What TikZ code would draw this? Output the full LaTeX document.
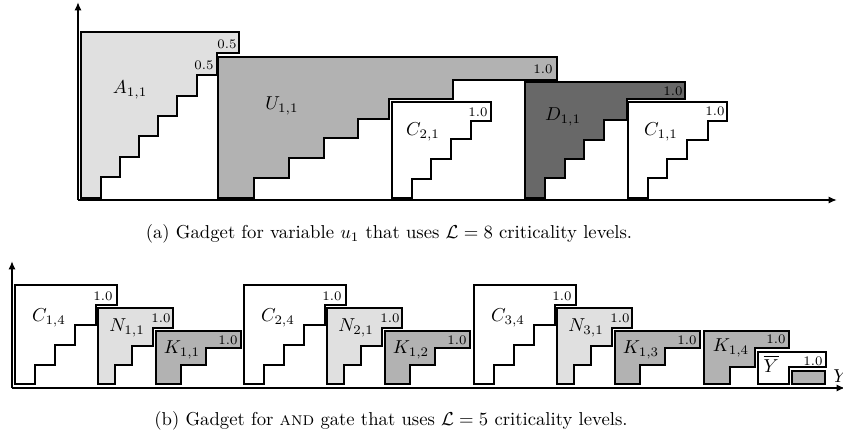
\documentclass[tikz,border=0pt]{standalone}
\usetikzlibrary{arrows.meta}
\definecolor{lightfill}{RGB}{224,224,224}
\definecolor{midfill}{RGB}{178,178,178}
\definecolor{darkfill}{RGB}{104,104,104}
\begin{document}
\begin{tikzpicture}[x=0.535pt,y=-0.535pt,
  blk/.style={draw=black,line width=1pt,line join=miter},
  axis/.style={line width=0.9pt,-{Latex[length=4.5pt,width=3.8pt]}},
  lbl/.style={inner sep=0pt},
  val/.style={inner sep=0pt,font=\scriptsize}]
\useasboundingbox (0,0) rectangle (843,447);

% ---------- panel (a) ----------
\coordinate (oa) at (78,200);
\coordinate (ya) at (78,2);
\coordinate (xa) at (837,200);
\draw[axis] (oa) -- (ya);
\draw[axis] (oa) -- (xa);

\draw[blk,fill=lightfill] (81,32)--(239,32)--(239,53)--(217,53)--(217,75)--(197,75)--(197,96)--(177,96)--(177,116)--(158,116)--(158,136)--(139,136)--(139,157)--(120,157)--(120,177)--(101,177)--(101,198)--(81,198)--cycle;
\draw[blk,fill=midfill] (218,57)--(557,57)--(557,80)--(453,80)--(453,99)--(389,99)--(389,119)--(358,119)--(358,138)--(324,138)--(324,158)--(289,158)--(289,178)--(254,178)--(254,198)--(218,198)--cycle;
\draw[blk,fill=white] (392,102)--(491,102)--(491,121)--(471,121)--(471,139)--(451,139)--(451,159)--(431,159)--(431,179)--(412,179)--(412,198)--(392,198)--cycle;
\draw[blk,fill=darkfill] (525,82)--(685,82)--(685,99)--(627,99)--(627,120)--(604,120)--(604,140)--(584,140)--(584,159)--(565,159)--(565,178)--(545,178)--(545,198)--(525,198)--cycle;
\draw[blk,fill=white] (628,102)--(727,102)--(727,121)--(708,121)--(708,140)--(687,140)--(687,159)--(667,159)--(667,178)--(648,178)--(648,198)--(628,198)--cycle;

\node[lbl] (lA) at (130,90) {$A_{1,1}$};
\node[val] (vA1) at (227,44) {0.5};
\node[val] (vA2) at (204,65) {0.5};
\node[lbl] (lU) at (282,106) {$U_{1,1}$};
\node[val] (vU) at (543,69) {1.0};
\node[lbl] (lC21) at (423,132) {$C_{2,1}$};
\node[val] (vC21) at (478,112) {1.0};
\node[lbl] (lD) at (563,117) {$D_{1,1}$};
\node[val] (vD) at (673,91) {1.0};
\node[lbl] (lC11) at (661,132) {$C_{1,1}$};
\node[val] (vC11) at (715,111) {1.0};

\node (capa) at (389,234) {(a) Gadget for variable $u_1$ that uses $\mathcal{L}=8$ criticality levels.};

% ---------- panel (b) ----------
\coordinate (ob) at (12,388);
\coordinate (yb) at (12,261);
\coordinate (xb) at (845,388);
\draw[axis] (ob) -- (yb);
\draw[axis] (ob) -- (xb);

\foreach \i/\dx in {1/0,2/229,3/459}{
  \draw[blk,fill=white] ({\dx+15},285)--({\dx+117},285)--({\dx+117},305)--({\dx+96},305)--({\dx+96},325)--({\dx+75},325)--({\dx+75},345)--({\dx+55},345)--({\dx+55},365)--({\dx+35},365)--({\dx+35},384)--({\dx+15},384)--cycle;
  \draw[blk,fill=lightfill] ({\dx+98},308)--({\dx+173},308)--({\dx+173},328)--({\dx+153},328)--({\dx+153},346)--({\dx+132},346)--({\dx+132},365)--({\dx+115},365)--({\dx+115},384)--({\dx+98},384)--cycle;
  \draw[blk,fill=midfill] ({\dx+156},331)--({\dx+241},331)--({\dx+241},348)--({\dx+206},348)--({\dx+206},365)--({\dx+181},365)--({\dx+181},384)--({\dx+156},384)--cycle;
  \node[lbl] (lC\i) at ({\dx+49},318) {$C_{\i,4}$};
  \node[val] (vC\i) at ({\dx+103},296) {1.0};
  \node[lbl] (lN\i) at ({\dx+127},328) {$N_{\i,1}$};
  \node[val] (vN\i) at ({\dx+161},318) {1.0};
  \node[lbl] (lK\i) at ({\dx+182},350) {$K_{1,\i}$};
  \node[val] (vK\i) at ({\dx+228},340) {1.0};
}

\draw[blk,fill=midfill] (704,331)--(789,331)--(789,348)--(755,348)--(755,367)--(730,367)--(730,384)--(704,384)--cycle;
\draw[blk,fill=white] (758,352)--(826,352)--(826,367)--(789,367)--(789,384)--(758,384)--cycle;
\draw[blk,fill=midfill] (792,371) rectangle (825,384);
\node[lbl] (lK4) at (731,348) {$K_{1,4}$};
\node[val] (vK4) at (776,339) {1.0};
\node[lbl] (lYb) at (771,364) {$\overline{Y}$};
\node[val] (vYb) at (813,361) {1.0};
\node[lbl,anchor=west] (lY) at (833,376) {$Y$};

\node (capb) at (391,421) {(b) Gadget for \textsc{and} gate that uses $\mathcal{L}=5$ criticality levels.};
\end{tikzpicture}
\end{document}
